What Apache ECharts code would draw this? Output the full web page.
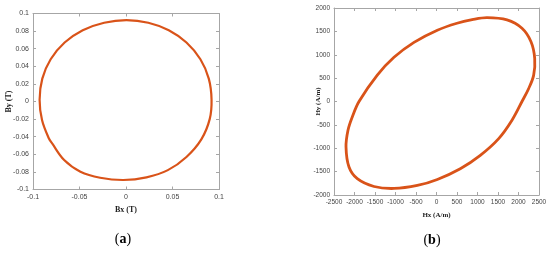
<!DOCTYPE html>
<html>
<head>
<meta charset="utf-8">
<script src="https://cdn.jsdelivr.net/npm/echarts@6/dist/echarts.min.js"></script>
<style>
  html, body { margin: 0; padding: 0; background: #fff; }
  #chart { width: 550px; height: 255px; }
</style>
</head>
<body>
<div id="chart"></div>
<script>
// (a) B locus
const bx = [0.0920, 0.0890, 0.0800, 0.0650, 0.0460, 0.0240, 0.0005, -0.0235, -0.0465, -0.0660, -0.0810, -0.0900,
            -0.0929, -0.0903, -0.0830, -0.0792, -0.0665, -0.0490, -0.0278, -0.0028, 0.0220, 0.0450, 0.0650, 0.0810, 0.0900];
const by = [0.002, 0.026, 0.048, 0.067, 0.081, 0.0895, 0.0925, 0.0895, 0.081, 0.067, 0.048, 0.026,
            0.002, -0.021, -0.0418, -0.0480, -0.0665, -0.0798, -0.0866, -0.0892, -0.0862, -0.0780, -0.0630, -0.0430, -0.0200];

// (b) H locus
const hx = [-1890, -1444, -1037, -549, 20, 500, 870, 1232, 1720, 2085, 2305, 2395, 2370, 2249, 2085,
            1841, 1517, 1068, 580, 20, -468, -1037, -1524, -1932, -2134, -2207, -2159, -2054];
const hy = [0, 564, 945, 1265, 1525, 1674, 1750, 1794, 1745, 1567, 1279, 923, 564, 279, 0,
            -401, -794, -1152, -1438, -1667, -1796, -1860, -1818, -1652, -1403, -974, -616, -330];

const axisColor = '#a6a6a6';
const lineColor = '#d95319';

function mainAxis(pos, grid, min, max, interval, name, gap, labelSize, nameSize) {
    return {
        type: 'value', gridIndex: grid, position: pos,
        min: min, max: max, interval: interval,
        name: name, nameLocation: 'middle', nameGap: gap, nameMoveOverlap: false,
        nameTextStyle: { fontFamily: 'Liberation Serif', fontWeight: 'bold', fontSize: nameSize, color: '#222' },
        axisLine: { show: true, onZero: false, lineStyle: { color: axisColor, width: 1 } },
        axisTick: { show: true, inside: true, length: 3, lineStyle: { color: axisColor } },
        axisLabel: {
            fontSize: labelSize, fontFamily: 'Liberation Sans', color: '#444', margin: 4,
            hideOverlap: false, interval: 0,
            formatter: v => String(v)
        },
        splitLine: { show: false }
    };
}

function sideAxis(pos, grid, min, max, interval) {
    return {
        type: 'value', gridIndex: grid, position: pos,
        min: min, max: max, interval: interval,
        axisLine: { show: true, onZero: false, lineStyle: { color: axisColor, width: 1 } },
        axisTick: { show: true, inside: true, length: 3, lineStyle: { color: axisColor } },
        axisLabel: { show: false },
        splitLine: { show: false }
    };
}

// closed smooth loop, points placed through the axes
function loopSeries(xs, ys, xi, yi, width) {
    return {
        type: 'custom', xAxisIndex: xi, yAxisIndex: yi,
        coordinateSystem: 'cartesian2d',
        data: [[xs[0], ys[0]]],
        renderItem: function (params, api) {
            const pts = xs.map((x, i) => api.coord([x, ys[i]]));
            return {
                type: 'polygon',
                shape: { points: pts, smooth: 0.35 },
                style: { fill: 'none', stroke: lineColor, lineWidth: width }
            };
        }
    };
}

const chart = echarts.init(document.getElementById('chart'));

const option = {
    animation: false,
    backgroundColor: '#fff',
    grid: [
        { left: 33, top: 13.5, width: 186, height: 176 },
        { left: 334, top: 8, width: 205, height: 187 }
    ],
    xAxis: [
        mainAxis('bottom', 0, -0.1, 0.1, 0.05, 'Bx (T)', 16, 7, 8),
        sideAxis('top', 0, -0.1, 0.1, 0.05),
        mainAxis('bottom', 1, -2500, 2500, 500, 'Hx (A/m)', 16.5, 6.5, 7),
        sideAxis('top', 1, -2500, 2500, 500)
    ],
    yAxis: [
        mainAxis('left', 0, -0.1, 0.1, 0.02, 'By (T)', 20, 7, 8),
        sideAxis('right', 0, -0.1, 0.1, 0.02),
        mainAxis('left', 1, -2000, 2000, 500, 'Hy (A/m)', 12.5, 6.5, 7),
        sideAxis('right', 1, -2000, 2000, 500)
    ],
    series: [
        loopSeries(bx, by, 0, 0, 2.2),
        loopSeries(hx, hy, 2, 2, 2.8)
    ],
    graphic: [
        {
            type: 'text', x: 123, y: 239,
            style: {
                text: '{p|(}{l|a}{p|)}', align: 'center', verticalAlign: 'middle',
                rich: {
                    p: { fontFamily: 'Liberation Serif', fontSize: 14, color: '#111' },
                    l: { fontFamily: 'Liberation Serif', fontSize: 14, fontWeight: 'bold', color: '#111' }
                }
            }
        },
        {
            type: 'text', x: 432, y: 240,
            style: {
                text: '{p|(}{l|b}{p|)}', align: 'center', verticalAlign: 'middle',
                rich: {
                    p: { fontFamily: 'Liberation Serif', fontSize: 14, color: '#111' },
                    l: { fontFamily: 'Liberation Serif', fontSize: 14, fontWeight: 'bold', color: '#111' }
                }
            }
        }
    ]
};

chart.setOption(option);
</script>
</body>
</html>
